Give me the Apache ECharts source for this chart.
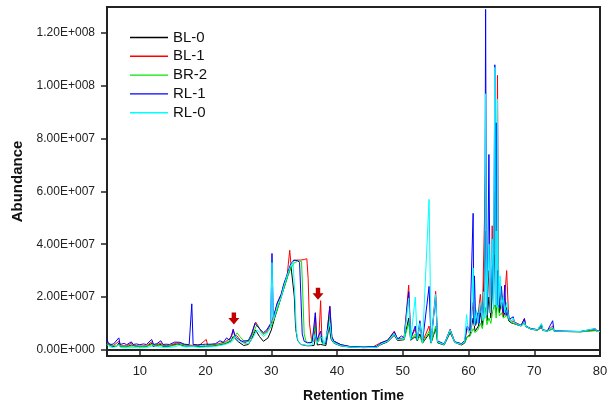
<!DOCTYPE html>
<html><head><meta charset="utf-8">
<script src="https://cdn.jsdelivr.net/npm/echarts@6/dist/echarts.min.js"></script>
<style>html,body{margin:0;padding:0;background:#fff}#c{width:612px;height:408px}</style>
</head><body><div id="c"></div>
<script>
// Retention time (min) vs abundance (millions)
const seriesNames = ['BL-0','BL-1','BR-2','RL-1','RL-0'];
const xTicks = [10,20,30,40,50,60,70,80];
const yTicks = [0,20,40,60,80,100,120];
const arrowMarks = [[24.3,11.8],[37.1,21.2]];

const BL0 = [[5,2.5],[5.3,1.8],[5.8,1.2],[6.5,1.3],[6.8,2.6],[7.0,1.2],[8,1.1],[8.7,1.8],[9,1.2],[10,1.1],[11,1.2],[11.8,2.4],[12,1.2],[13.2,2.0],[13.5,1.2],[14.5,1.3],[15.3,2.0],[16,2.0],[16.8,1.4],[18,1.3],[19,1.2],[20,1.3],[21,1.4],[22,1.8],[23,2.3],[23.8,3.2],[24.2,5.0],[24.5,4.2],[25,3.0],[25.8,1.6],[26.5,2.0],[27,4.0],[27.6,7.5],[28.2,5.0],[28.8,3.2],[29.5,4.5],[30,7.5],[30.5,12],[31,16],[31.5,20],[32,24],[32.5,28],[33,31.5],[33.3,32],[33.5,20],[33.7,8],[34,3.5],[34.5,2.0],[35.5,1.5],[36.5,1.6],[36.8,6],[37,1.8],[37.5,2.0],[38.3,1.6],[38.8,9],[39.1,4],[39.5,2.5],[40.5,1.5],[42,1.0],[44,0.8],[46,0.9],[46.7,2.0],[47.7,3.0],[48.7,5.5],[49.2,3.5],[50.2,3.8],[50.9,12],[51.2,3.6],[51.9,5],[52.2,3.4],[52.6,6],[53,2.5],[54,6],[54.3,2.5],[55,8],[55.3,2.6],[55.8,2.2],[56.3,1.8],[57.2,6.5],[57.9,2.8],[58.9,1.8],[59.4,2.5],[59.8,5],[60.2,5.5],[60.7,12],[61,7],[61.5,9],[61.8,14],[62.1,9],[62.6,45],[62.8,11],[63.1,20],[63.4,12],[63.7,28],[64.0,36],[64.2,14],[64.4,30],[64.7,14],[65,18],[65.3,12.5],[65.8,16],[66.1,11],[66.5,10.2],[67,9.8],[68,9],[68.5,10.5],[68.7,8.8],[69.5,7.8],[70.5,7.4],[71.1,8.5],[71.3,7.3],[72,7.1],[72.8,8],[73,7],[75,6.9],[77,6.8],[79.3,7.4],[79.5,6.8],[80,6.8]];

const BL1 = [[5,3],[5.3,2],[6,1.6],[6.8,3.2],[7.1,1.5],[8,1.5],[8.8,2.6],[9.1,1.5],[10,1.4],[11,1.5],[11.8,3.0],[12.1,1.5],[13.2,2.5],[13.5,1.6],[14.5,1.6],[15.5,2.5],[16.2,2.3],[17,1.7],[18,1.7],[19,1.6],[20.1,3.9],[20.3,1.8],[21,1.8],[22,2.3],[23,3.0],[23.8,4.5],[24.2,7.7],[24.4,5.5],[24.8,5.2],[25.3,3.5],[26,2.6],[26.8,4],[27.6,10.5],[28,9],[28.4,7],[28.8,6],[29.3,7],[29.9,9.5],[30.5,14],[30.9,17.7],[31.5,21],[31.9,24.6],[32.4,28],[32.8,37.7],[33,32],[33.4,33.8],[34,34],[34.5,34],[35,34.2],[35.4,34.5],[35.6,27],[35.8,10],[36.1,4],[36.5,3],[36.7,14],[36.9,4],[37.2,3],[37.5,18.6],[37.7,3.5],[38.3,2.2],[38.9,16.6],[39.2,5],[39.5,3.2],[40.6,1.9],[42,1.2],[44,1.0],[45.5,1.1],[46.5,2.5],[47.7,3.6],[48.7,7.0],[49.2,4.1],[50.2,4.5],[50.9,24.5],[51.2,4.2],[51.9,8],[52.2,3.9],[52.6,9],[53,3],[54,9],[54.3,3],[55,22.1],[55.3,3.2],[55.8,2.6],[56.3,2.1],[57.2,7.7],[57.9,3],[58.9,2.3],[59.4,3.3],[59.8,8],[60.2,7],[60.7,18],[61,9],[61.4,12],[61.8,21],[62.1,11],[62.6,70],[62.8,13],[63.1,30],[63.4,14],[63.6,47],[63.8,16],[64.0,60],[64.2,18],[64.4,104],[64.6,17],[65,22],[65.3,13],[65.8,30],[66.1,12],[66.5,11],[67,10.5],[68,9.3],[68.5,11.8],[68.7,9],[69.5,8],[70.5,7.6],[71.1,9.5],[71.3,7.5],[72,7.2],[72.8,9],[73,7.1],[75,7],[77,6.9],[79.3,7.6],[79.5,6.9],[80,6.9]];

const BR2 = [[5,2.4],[5.5,1.5],[6.5,1.4],[6.8,2.2],[7.1,1.3],[8,1.3],[9,1.4],[10,1.3],[11,1.3],[12,2.0],[12.3,1.3],[13.5,1.4],[15,1.5],[16,2.2],[17,1.5],[18,1.4],[19,1.4],[20,1.5],[21,1.6],[22,2.0],[23,2.6],[24,3.8],[24.8,6.4],[25.2,5],[25.8,3.4],[26.5,3],[27.2,6],[27.8,9.5],[28.3,7.7],[28.8,5.8],[29.5,7],[30,9],[30.5,12.5],[31,16],[31.5,20],[32,24],[32.5,28],[33,31],[33.5,33],[34,33.5],[34.6,33.5],[34.8,20],[35,6],[35.3,3],[36,2.5],[36.7,9],[36.9,3],[37.5,5],[37.7,2.5],[38.3,2],[38.9,12.8],[39.2,4.5],[39.5,3],[40.6,1.8],[42,1.1],[44,0.9],[46,1.0],[46.7,2.3],[47.7,3.3],[48.7,6],[49.2,3.8],[50.2,4],[50.9,10],[51.2,3.8],[51.9,6],[52.2,3.6],[52.6,5],[53,2.6],[54,7],[54.3,2.6],[55,9],[55.3,2.8],[55.8,2.3],[56.3,1.9],[57.2,7],[57.9,2.8],[58.9,2],[59.4,2.8],[59.8,5],[60.2,5],[60.7,8],[61,6.5],[61.4,7.5],[61.8,10],[62.1,8],[62.6,16],[62.8,9.5],[63.1,12],[63.4,10],[63.7,15],[64.0,17],[64.2,12],[64.4,18],[64.7,12.8],[65,14],[65.3,12],[65.8,13],[66.1,11.5],[66.5,10.5],[67,9.8],[68,9],[68.5,10],[68.7,8.8],[69.5,7.8],[70.5,7.4],[71.1,9],[71.3,7.3],[72,7.1],[72.8,7.8],[73,7],[75,6.9],[77,6.8],[79.3,7.2],[79.5,6.8],[80,6.8]];

const RL1 = [[5,4],[5.2,2.5],[5.6,2],[6,2.2],[6.8,4.5],[7,2],[7.6,2.4],[8,1.9],[8.7,3],[9,2],[9.5,2.2],[10,1.9],[10.5,2.2],[11,2],[11.8,3.9],[12.1,2],[12.6,2.3],[13.2,3.4],[13.5,2],[14,2.1],[14.5,2],[15.3,2.9],[16.1,2.8],[16.8,2.1],[17.5,1.9],[17.9,17.4],[18.1,2],[18.8,1.9],[19.5,2],[20,2.1],[20.8,2.1],[21.5,2.3],[22.2,3.4],[22.7,2.8],[23.2,4.5],[23.6,3.6],[24.0,5.5],[24.2,7.7],[24.5,5],[25,4],[25.5,3.2],[25.8,3.4],[26.5,3.5],[27,6],[27.5,10],[27.8,9.5],[28.3,7.7],[28.8,6.5],[29.3,7.5],[29.9,10],[30.1,36.5],[30.3,12],[30.9,17.7],[31.5,21],[31.9,25],[32.4,28.5],[32.9,32.2],[33.4,34],[34,33.8],[34.3,33],[34.5,20],[34.7,6],[35,3.2],[35.5,2.6],[36.2,2.8],[36.7,14],[36.9,3.5],[37.5,7],[37.7,3],[38.3,2.2],[38.9,16.3],[39.2,5],[39.5,3.3],[40.6,1.9],[42,1.2],[44,1.0],[46,1.2],[46.7,2.6],[47.7,3.6],[48.7,6.8],[49.2,4.1],[49.8,5.2],[50.2,4.5],[50.9,22],[51.2,4.2],[51.9,9],[52.2,3.9],[52.6,11],[53,3],[54,24],[54.3,3],[55,20],[55.3,3.2],[55.8,2.8],[56.3,2.1],[57.2,7.6],[57.9,3],[58.9,2.3],[59.4,3.3],[59.8,9],[60.2,7.5],[60.7,51.7],[60.8,10],[60.9,28],[61.1,9.5],[61.4,14],[61.6,10],[61.8,17],[62.1,11],[62.3,20],[62.45,12],[62.6,129],[62.75,13],[62.9,25],[63.1,74],[63.3,14],[63.6,35],[63.8,16],[64.0,108],[64.1,17],[64.2,86],[64.35,17],[64.5,30],[64.7,16],[65,24],[65.3,14],[65.5,24.5],[65.7,13],[66,15],[66.2,11.5],[66.5,10.8],[66.8,12.5],[67,10.2],[67.5,9.6],[68,9.2],[68.5,11.8],[68.7,9],[69.5,8],[70.5,7.6],[71.1,9.5],[71.3,7.5],[72,7.2],[72.8,11],[73,7.2],[75,7],[77,6.9],[79.3,8],[79.5,6.9],[80,6.9]];

const RL0 = [[5,2],[5.3,1.2],[6,0.8],[6.8,1.8],[7.1,0.8],[8,0.7],[9,0.8],[10,0.7],[11,0.8],[12,1.5],[12.3,0.8],[13.5,0.9],[15,1.0],[16,1.6],[17,1.0],[18,1.2],[19,0.9],[20,1.0],[21,1.1],[22,1.5],[23,2],[24,3],[24.5,5],[25,3.6],[25.8,2.4],[26.5,2.3],[27.2,4.5],[27.8,7.5],[28.3,6.5],[28.8,5],[29.3,6],[29.9,9],[30.1,33],[30.3,11],[30.9,16.5],[31.5,20],[31.9,24],[32.4,28],[32.9,31.5],[33.3,33.5],[33.5,33],[33.6,20],[33.8,7],[34.1,3],[34.6,2],[35.5,1.6],[36.2,1.8],[36.7,6],[36.9,2.5],[37.8,5],[38,2],[38.3,1.7],[38.9,10],[39.2,4],[39.5,2.6],[40.6,1.5],[42,1.0],[44,0.8],[46,0.9],[46.7,2.2],[47.7,3.2],[48.7,6],[49.2,3.8],[50.2,4.2],[50.9,19.5],[51.2,3.9],[51.9,20],[52.2,3.8],[52.6,10],[53,2.8],[54,57],[54.3,2.8],[55,21],[55.3,3],[55.8,2.5],[56.3,2],[57.2,7.5],[57.9,2.8],[58.9,2.1],[59.4,3],[59.7,13.3],[60,6.5],[60.4,7.2],[60.7,31],[60.9,9],[61.2,15],[61.4,10],[61.8,18],[62.1,11],[62.3,22],[62.45,12],[62.6,97],[62.75,13],[62.9,28],[63.1,40],[63.3,14],[63.6,42],[63.8,16],[64.0,107],[64.1,17],[64.2,45],[64.3,16],[64.4,95],[64.55,17],[64.8,28],[65,16],[65.3,20],[65.5,14],[65.8,18],[66.1,12],[66.5,10.8],[66.8,12],[67,10.2],[67.5,9.6],[68,9.1],[68.5,10.5],[68.7,8.9],[69.5,7.9],[70.5,7.5],[71.1,10],[71.3,7.4],[72,7.1],[72.8,8.5],[73,7.1],[75,7],[77,6.9],[79.3,8],[79.5,6.9],[80,6.9]];

const seriesData = [BL0, BL1, BR2, RL1, RL0];
const colors = ['#000000','#ff0000','#00e600','#0000ff','#00ffff'];

const FONT = 'Liberation Sans, Arial, sans-serif';
function sci(v){
  const x = v*1e6;
  if (x === 0) return '0.00E+000';
  const e = Math.floor(Math.log10(x)+1e-9);
  const m = x/Math.pow(10,e);
  return m.toFixed(2)+'E+'+String(e).padStart(3,'0');
}

const chart = echarts.init(document.getElementById('c'), null, {renderer:'canvas'});
const series = seriesNames.map((n,i)=>({
  name:n, type:'line', data:seriesData[i], symbol:'none', showSymbol:false,
  lineStyle:{width:1,color:colors[i]}, itemStyle:{color:colors[i]},
  animation:false, z:2+i
}));
series[1].markPoint = {
  symbol:'path://M3,0 L7,0 L7,5 L10,5 L5,11 L0,5 L3,5 Z',
  symbolSize:[11,12],
  itemStyle:{color:'#c00000'},
  label:{show:false},
  data: arrowMarks.map(a=>({coord:a})),
  z:20
};
chart.setOption({
  backgroundColor:'#fff',
  animation:false,
  grid:{left:107,right:12,top:7,bottom:50,show:true,borderColor:'#222',borderWidth:2},
  legend:{
    left:125, top:25, orient:'vertical', itemWidth:38, itemHeight:14, itemGap:3.8,
    icon:'path://M0,6.3 L38,6.3 L38,7.7 L0,7.7 Z',
    textStyle:{fontFamily:FONT,fontSize:15,color:'#111',lineHeight:14},
    data:seriesNames
  },
  xAxis:{
    type:'value', min:5, max:80,
    name:'Retention Time', nameLocation:'middle', nameGap:33,
    nameTextStyle:{fontFamily:FONT,fontSize:14,fontWeight:'bold',color:'#111'},
    axisLine:{show:true,lineStyle:{color:'#222',width:2}},
    axisTick:{show:true,length:6,customValues:xTicks,lineStyle:{color:'#222',width:1.5}},
    axisLabel:{customValues:xTicks,margin:9,fontFamily:FONT,fontSize:13,color:'#222'},
    splitLine:{show:false}
  },
  yAxis:{
    type:'value', min:-2.37, max:129.9,
    name:'Abundance', nameLocation:'middle', nameGap:73, nameRotate:90,
    nameTextStyle:{fontFamily:FONT,fontSize:15,fontWeight:'bold',color:'#111'},
    axisLine:{show:true,lineStyle:{color:'#222',width:2}},
    axisTick:{show:true,length:6,customValues:yTicks,lineStyle:{color:'#222',width:1.5}},
    axisLabel:{customValues:yTicks,margin:12,fontFamily:FONT,fontSize:12,color:'#222',formatter:sci},
    splitLine:{show:false}
  },
  series:series
});
</script></body></html>
